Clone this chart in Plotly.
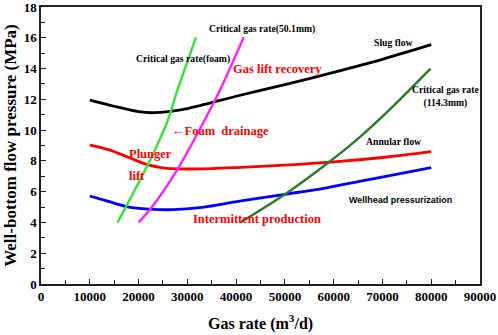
import plotly.graph_objects as go

# Data
slug_x = [10000, 15000, 20000, 23000, 30000, 40000, 50000, 60000, 70000, 80000]
slug_y = [11.95, 11.55, 11.2, 11.13, 11.4, 12.2, 12.95, 13.75, 14.6, 15.55]

annular_x = [10000, 14000, 18000, 22000, 25000, 28000, 35000, 41000, 50000, 60000, 70000, 80000]
annular_y = [9.03, 8.72, 8.22, 7.74, 7.55, 7.48, 7.5, 7.58, 7.72, 7.93, 8.22, 8.6]

wellhead_x = [10000, 14000, 18000, 22000, 27000, 33000, 41000, 50000, 58000, 65000, 72000, 80000]
wellhead_y = [5.72, 5.35, 5.0, 4.87, 4.83, 4.98, 5.4, 5.83, 6.22, 6.65, 7.07, 7.56]

foam_x = [15700, 17500, 21870, 25850, 28020, 31790]
foam_y = [4.0, 5.07, 7.73, 10.52, 12.65, 16.03]

c501_x = [20020, 22420, 28020, 33560, 36780, 41560]
c501_y = [4.0, 4.87, 7.47, 10.66, 12.65, 16.03]

c1143_x = [40880, 50110, 59000, 65000, 72000, 79860]
c1143_y = [4.0, 5.85, 7.91, 9.45, 11.5, 14.0]

x_ticks = [0, 10000, 20000, 30000, 40000, 50000, 60000, 70000, 80000, 90000]
y_ticks = [0, 2, 4, 6, 8, 10, 12, 14, 16, 18]

SERIF = "Liberation Serif"

fig = go.Figure()

def add_line(x, y, color, width=2.6, smoothing=0.8):
    fig.add_trace(go.Scatter(x=x, y=y, mode="lines",
                             line=dict(color=color, width=width, shape="spline", smoothing=smoothing),
                             showlegend=False, hoverinfo="skip"))

add_line(slug_x, slug_y, "#000000", 2.8)
add_line(annular_x, annular_y, "#ff0000", 2.8, 1.0)
add_line(wellhead_x, wellhead_y, "#0000ff", 2.8)
add_line(foam_x, foam_y, "#33e333", 2.4)
add_line(c501_x, c501_y, "#ff22ff", 2.4)
add_line(c1143_x, c1143_y, "#2a7a2a", 2.4)

def label(x, y, text, color="#000000", size=9.7, family=SERIF):
    fig.add_annotation(x=x, y=y, text=text, showarrow=False,
                       font=dict(family=family, size=size, color=color),
                       xanchor="center", yanchor="middle")

label(45330, 16.55, "<b>Critical gas rate(50.1mm)</b>")
label(29130, 14.6, "<b>Critical gas rate(foam)</b>")
label(48400, 14.0, "<b>Gas lift recovery</b>", "#ff0000", 12.5)
label(72270, 15.72, "<b>Slug flow</b>")
label(82850, 12.17, "<b>Critical gas rate<br>(114.3mm)</b>")
label(72270, 9.29, "<b>Annular flow</b>")
label(73640, 5.46, "<b>Wellhead pressurization</b>", size=9, family="Liberation Sans")
label(44270, 4.22, "<b>Intermittent production</b>", "#ff0000", 12.5)
label(36740, 9.96, "<b>←Foam  drainage</b>", "#ff0000", 12.5)
label(22420, 8.43, "<b>Plunger</b>", "#ff0000", 12.5)
label(19690, 7.02, "<b>lift</b>", "#ff0000", 12.5)

# axis titles placed in paper coordinates
fig.add_annotation(x=0.5, y=-0.14, xref="paper", yref="paper", showarrow=False,
                   text="<b>Gas rate (m<sup>3</sup>/d)</b>", xanchor="center", yanchor="middle",
                   font=dict(family=SERIF, size=16, color="#000000"))
fig.add_annotation(x=-0.07, y=0.5, xref="paper", yref="paper", showarrow=False,
                   text="<b>Well-bottom flow pressure (MPa)</b>", textangle=-90,
                   xanchor="center", yanchor="middle",
                   font=dict(family=SERIF, size=17, color="#000000"))

axis_common = dict(
    showgrid=False, zeroline=False, showline=True, linecolor="#222222", linewidth=1.5,
    mirror=True, ticks="inside", ticklen=5, tickwidth=1.2, tickcolor="#222222",
    tickfont=dict(family=SERIF, size=13, color="#000000"), automargin=False,
    ticklabeloverflow="allow",
)

fig.update_xaxes(range=[0, 90000], tickvals=x_ticks, ticktext=[f"<b>{v}</b>" for v in x_ticks],
                 minor=dict(ticks="inside", dtick=5000, ticklen=4, tickcolor="#222222"),
                 **axis_common)
fig.update_yaxes(range=[0, 18], tickvals=y_ticks, ticktext=[f"<b>{v}</b>" for v in y_ticks],
                 minor=dict(ticks="inside", dtick=1, ticklen=4, tickcolor="#222222"),
                 **axis_common)

fig.update_layout(width=498, height=335, margin=dict(l=41, r=18, t=7, b=51),
                  paper_bgcolor="white", plot_bgcolor="white")

fig.write_html("out.html", config={"displayModeBar": False},
               post_script="document.body.style.margin='0';document.body.style.overflow='hidden';")
